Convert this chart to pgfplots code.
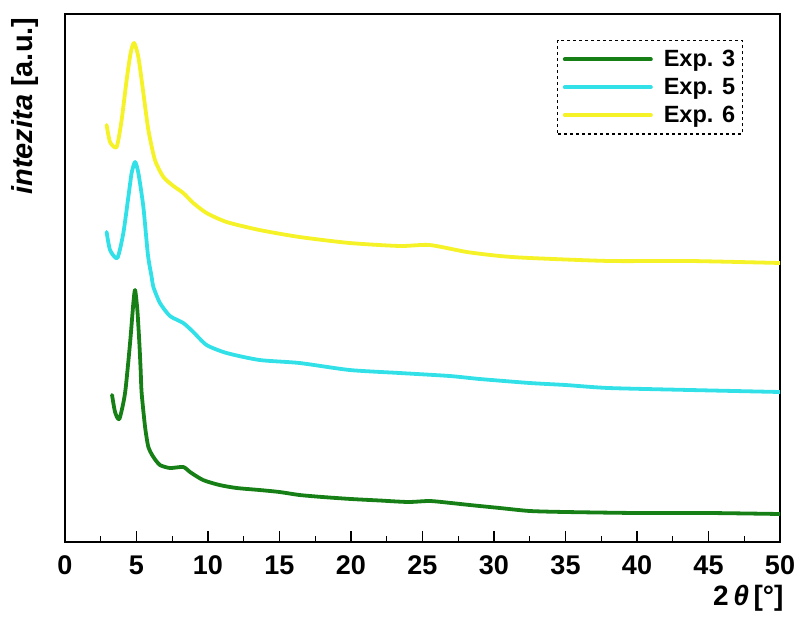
\documentclass[border=0pt]{standalone}
\usepackage{fontspec}
\setmainfont{Liberation Sans}
\usepackage{pgfplots}
\pgfplotsset{compat=1.18}
\definecolor{cgreen}{RGB}{22,128,22}
\definecolor{ccyan}{RGB}{50,225,232}
\definecolor{cyell}{RGB}{245,242,40}
\begin{document}
\begin{tikzpicture}
\begin{axis}[
  scale only axis,
  width=715pt, height=528pt,
  xmin=0, xmax=50, ymin=0, ymax=528,
  xtick={0,5,...,50},
  minor x tick num=1,
  ytick=\empty,
  xtick pos=bottom,
  tick align=inside,
  major tick length=11pt,
  minor tick length=6pt,
  axis line style={line width=1.4pt},
  every tick/.style={line width=1.2pt, black},
  /pgf/number format/assume math mode=true,
  xticklabel style={font=\bfseries\fontsize{27}{30}\selectfont, yshift=-10pt},
  xlabel={\bfseries 2\,\textit{θ}\,[°]},
  xlabel style={font=\bfseries\fontsize{28}{32}\selectfont, at={(axis description cs:1,0)}, anchor=north east, xshift=7pt, yshift=-40pt},
  ylabel={\textbf{\textit{intezita}} \textbf{[a.u.]}},
  ylabel style={font=\fontsize{29}{34}\selectfont, at={(axis description cs:-0.056,1)}, anchor=east, yshift=0pt},
  legend style={at={(axis description cs:0.948,0.951)}, anchor=north east,
    draw=black, dashed, line width=1.2pt, font=\bfseries\fontsize{23.5}{27}\selectfont,
    inner xsep=5pt, inner ysep=8pt, row sep=6pt, column sep=9pt},
  legend cell align=left,
  legend image code/.code={\draw[#1, solid, line width=4pt, line cap=round] (0pt,0pt) -- (86pt,0pt);},
  every axis plot/.append style={line width=3.8pt, line join=round, line cap=round},
]
\addplot[cgreen, smooth, tension=0.4] coordinates {
(3.29,147) (3.5,130) (3.8,123) (4.2,149) (4.55,199) (4.78,239) (4.9,252)
(5.06,232) (5.2,199) (5.29,172) (5.36,149) (5.6,115) (5.83,95) (6.18,85)
(6.64,77) (7.34,74) (8.27,75) (8.74,70) (9.65,62) (10.8,57) (12,54) (13.6,52)
(15,50) (16.4,47) (18,45) (20,43) (22,41.5) (24,40) (25.5,41) (27,39)
(28.3,37) (30.4,34) (32.5,31) (35,30) (40,29) (45,29) (50,28)};
\addlegendentry{Exp. 3}
\addplot[ccyan, smooth, tension=0.4] coordinates {
(2.91,310) (3.15,292) (3.66,284) (4.08,309) (4.43,345) (4.66,369) (4.9,380)
(5.13,369) (5.48,335) (5.8,287) (6.06,265) (6.18,255) (6.64,239) (7.34,226)
(8.27,219) (8.97,210) (9.9,197) (11.3,189) (13.6,182) (16.4,179) (19.9,172)
(23.4,169) (26.9,166) (29,163) (32.5,159) (35,157) (38,154) (43.7,152) (50,150)};
\addlegendentry{Exp. 5}
\addplot[cyell, smooth, tension=0.4] coordinates {
(2.91,417) (3.15,400) (3.61,395) (3.96,422) (4.31,462) (4.59,489) (4.83,499)
(5.13,485) (5.48,449) (5.83,412) (6.29,382) (6.88,365) (7.58,356) (8.27,349)
(8.97,339) (9.9,329) (11.3,320) (13.6,312) (16.4,305) (19.9,299) (23.4,296)
(25.5,297) (28.1,290) (30.4,286) (32.5,284) (38.1,281) (43.7,281) (50,279)};
\addlegendentry{Exp. 6}
\end{axis}
\pgfresetboundingbox
\path[use as bounding box] (-65pt,-77pt) rectangle (732pt,542pt);
\end{tikzpicture}
\end{document}
